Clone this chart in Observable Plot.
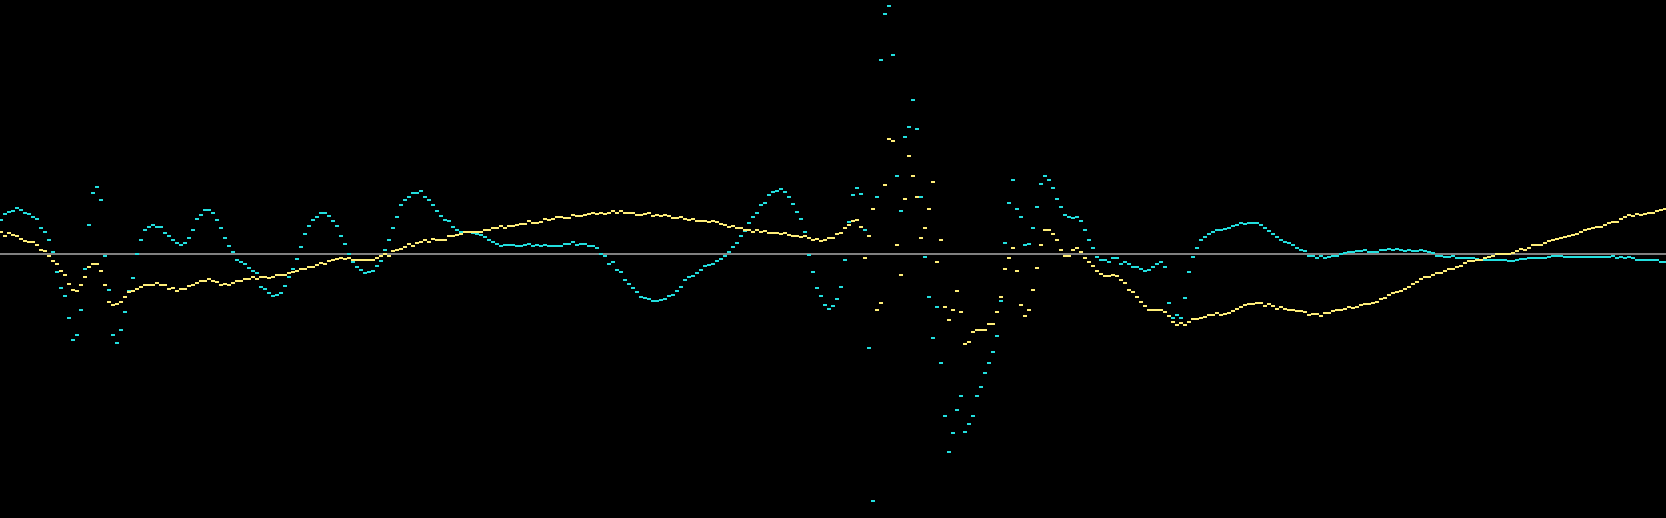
<!DOCTYPE html>
<html>
<head>
<meta charset="utf-8">
<script src="https://cdn.jsdelivr.net/npm/d3@7"></script>
<script src="https://cdn.jsdelivr.net/npm/@observablehq/plot@0.6"></script>
<style>
  html, body { margin: 0; padding: 0; background: #000; }
  #chart svg { display: block; }
</style>
</head>
<body>
<div id="chart"></div>
<script>
// Two waveform series sampled at equal steps; 0 = the grey reference level.
const cyanValues = [
  34,40,42,43,46,44,41,40,37,35,
  26,22,14,2,-18,-34,-42,-64,-86,-81,
  -56,-15,29,61,67,54,-2,-36,-81,-89,
  -76,-58,-37,-24,0,14,24,27,29,27,
  27,21,18,14,11,9,11,16,24,35,
  39,44,44,41,34,26,16,8,2,-6,
  -8,-10,-14,-17,-19,-33,-35,-39,-42,-41,
  -39,-32,-23,-15,-5,7,20,28,34,37,
  41,41,38,33,28,18,10,0,-8,-13,
  -16,-19,-18,-17,-12,-7,4,14,26,37,
  49,54,57,61,61,63,57,54,49,43,
  38,34,33,27,24,22,22,22,21,20,
  19,17,14,12,10,8,9,9,9,8,
  8,9,10,8,9,8,9,8,8,8,
  8,10,10,12,9,10,10,8,8,6,
  0,-2,-10,-8,-16,-18,-26,-30,-34,-38,
  -43,-44,-45,-47,-47,-46,-45,-42,-41,-37,
  -33,-26,-23,-22,-19,-16,-12,-11,-10,-7,
  -5,-2,2,7,11,18,23,31,37,41,
  49,51,59,62,63,65,62,57,50,42,
  35,22,-1,-18,-34,-42,-51,-55,-52,-45,
  -33,-6,32,59,66,60,24,-94,-247,57,
  194,240,248,199,78,43,117,127,154,125,
  57,-3,-43,-84,-53,-109,-162,-198,-179,-156,
  -142,-178,-170,-162,-142,-133,-119,-109,-98,-82,
  -47,11,51,74,45,37,9,10,26,47,
  70,78,74,66,55,47,39,37,36,37,
  33,24,14,6,-3,-6,-6,-8,-4,-4,
  -10,-8,-10,-13,-13,-15,-17,-16,-13,-10,
  -8,-13,-49,-64,-61,-64,-44,-18,-3,6,
  14,17,20,22,24,24,25,26,28,29,
  31,30,31,31,31,29,26,23,20,17,
  14,12,11,9,6,4,3,-2,-2,-4,
  -2,-4,-3,-2,-2,0,1,2,2,3,
  3,4,2,2,2,4,4,5,4,5,
  4,3,4,3,3,4,3,2,1,-2,
  -2,-3,-3,-2,-4,-4,-4,-4,-4,-5,
  -6,-6,-6,-6,-6,-6,-6,-7,-7,-6,
  -5,-5,-4,-4,-4,-4,-4,-3,-2,-2,
  -2,-3,-3,-3,-3,-3,-3,-3,-3,-3,
  -3,-3,-3,-2,-4,-3,-4,-3,-4,-6,
  -6,-6,-6,-6,-6,-8,-8
];
const yellowValues = [
  22,18,21,19,18,15,13,12,12,9,
  4,3,-2,-7,-10,-17,-21,-30,-36,-37,
  -31,-23,-13,-10,-10,-17,-31,-48,-51,-50,
  -48,-43,-38,-37,-35,-33,-31,-31,-31,-29,
  -31,-31,-35,-34,-37,-35,-35,-32,-31,-29,
  -27,-27,-25,-27,-28,-31,-30,-31,-29,-27,
  -27,-25,-25,-23,-25,-23,-23,-24,-23,-21,
  -21,-21,-19,-18,-17,-15,-15,-13,-13,-11,
  -9,-10,-7,-6,-5,-4,-5,-4,-6,-6,
  -6,-6,-6,-6,-4,-2,0,-2,3,4,
  5,7,10,8,11,12,14,12,15,14,
  14,14,18,18,19,20,22,22,22,22,
  22,24,24,26,26,28,26,28,28,29,
  30,30,33,31,31,32,35,34,35,37,
  37,36,36,39,38,38,39,40,41,40,
  41,40,41,43,41,43,41,41,41,39,
  39,40,41,38,39,38,39,38,36,36,
  37,35,34,35,33,33,33,32,33,32,
  30,29,27,28,26,26,24,24,22,24,
  22,23,21,21,21,20,21,19,18,18,
  17,18,16,14,15,13,14,16,16,20,
  21,26,29,33,34,27,-4,18,45,-56,
  -49,69,115,113,9,-21,55,98,78,57,
  16,26,45,72,-8,14,-53,-66,-56,-37,
  -58,-90,-88,-78,-76,-76,-76,-70,-70,-58,
  -43,-15,-4,6,-17,-51,-62,-56,-36,-14,
  9,24,24,20,14,4,-2,-2,4,6,
  2,-4,-8,-12,-17,-20,-22,-22,-21,-22,
  -26,-29,-36,-38,-43,-48,-52,-56,-56,-56,
  -56,-58,-62,-68,-71,-69,-71,-68,-65,-65,
  -64,-63,-61,-61,-59,-61,-60,-59,-57,-55,
  -53,-51,-50,-50,-49,-49,-52,-50,-52,-55,
  -53,-55,-56,-56,-57,-57,-58,-61,-60,-60,
  -62,-59,-59,-57,-56,-56,-55,-53,-54,-53,
  -51,-50,-50,-49,-48,-45,-44,-41,-39,-38,
  -37,-35,-33,-30,-28,-25,-23,-23,-21,-19,
  -19,-17,-15,-15,-13,-12,-9,-7,-7,-6,
  -6,-4,-3,-2,0,0,0,0,1,3,
  5,4,6,9,9,9,11,13,14,15,
  16,17,18,19,20,22,24,25,26,27,
  27,29,31,32,32,35,37,39,38,40,
  39,40,41,41,43,44,45
];
const referenceLevel = [0];

const toRows = (vals) => vals.map((v, i) => ({ i, v }));
const cyanRows = toRows(cyanValues);
const yellowRows = toRows(yellowValues);
const n = cyanValues.length - 1;

const dotOpts = (fill) => ({
  x1: d => d.i - 0.5,
  x2: d => d.i + 0.5,
  y1: d => d.v - 1,
  y2: d => d.v + 1,
  fill,
  shapeRendering: "crispEdges"
});

const chart = Plot.plot({
  width: 1666,
  height: 518,
  margin: 0,
  style: { background: "#000", overflow: "visible" },
  x: { domain: [0, n], range: [1, 1665], axis: null },
  y: { domain: [253.5, -264.5], range: [0, 518], axis: null },
  marks: [
    Plot.ruleY(referenceLevel, { stroke: "#808080", strokeWidth: 2, shapeRendering: "crispEdges" }),
    Plot.rect(cyanRows, dotOpts("#22dfdf")),
    Plot.rect(yellowRows, dotOpts("#ffee78"))
  ]
});
document.getElementById("chart").appendChild(chart);
</script>
</body>
</html>
